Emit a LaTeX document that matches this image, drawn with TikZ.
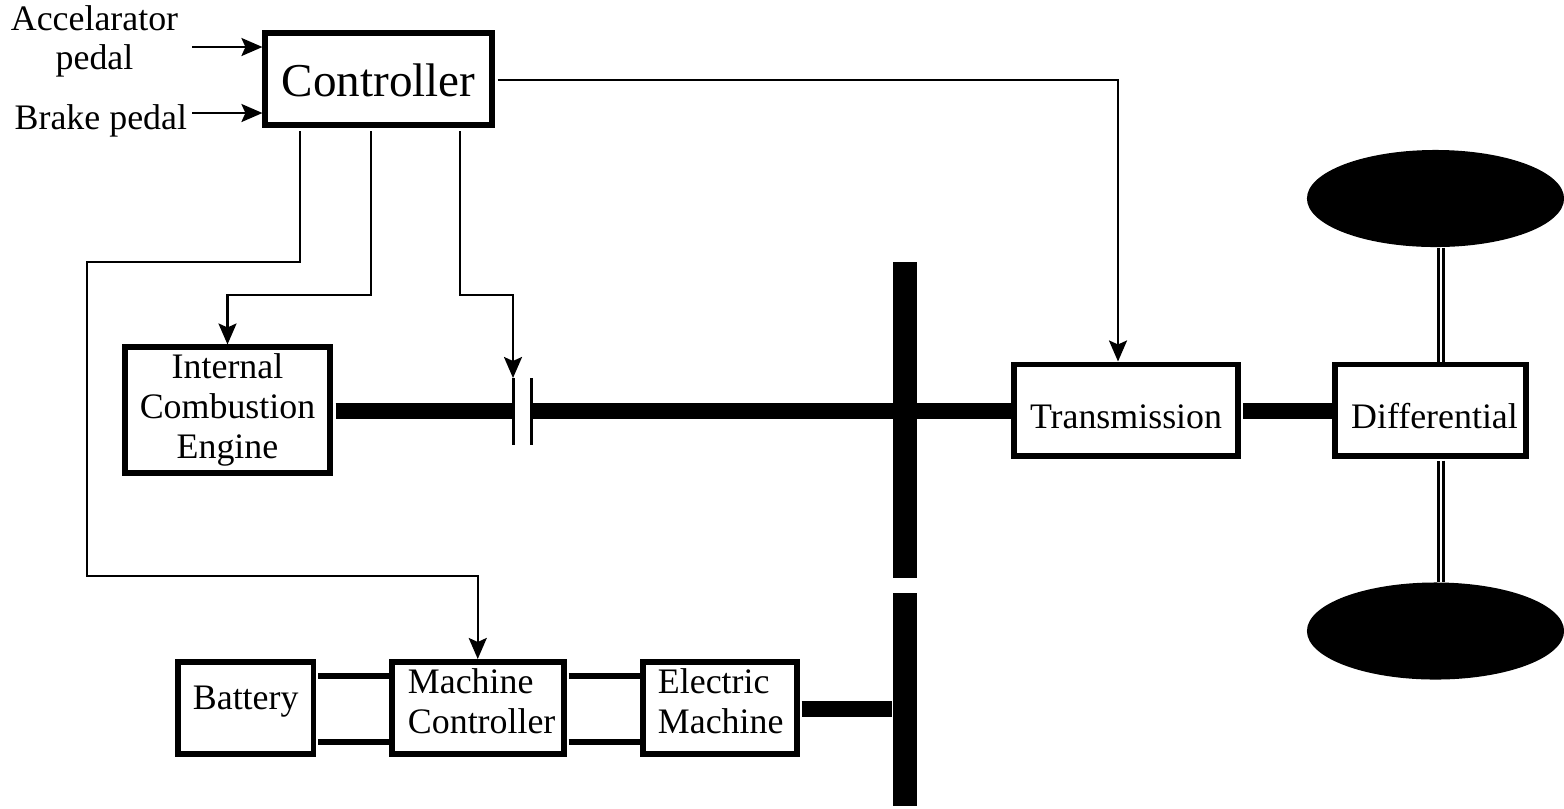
\documentclass[tikz,border=0pt]{standalone}
\usepackage{fontspec}
\setmainfont{Liberation Serif}
\usetikzlibrary{arrows.meta,calc,positioning,shapes.geometric}
\tikzset{box/.style={draw,line width=1.7pt,align=center,inner sep=0pt,font=\fontsize{10.2}{11.4}\selectfont},
  shaft/.style={line width=4.6pt},
  link/.style={line width=1.6pt},
  sig/.style={line width=0.7pt},
  arr/.style={sig,-{Stealth[length=2.1mm,width=1.8mm,inset=0.4mm]}},
  wheel/.style={fill=black,ellipse,minimum width=2.57cm,minimum height=0.97cm,inner sep=0pt},
  bar/.style={fill=black,minimum width=0.24cm,inner sep=0pt},
  axle/.style={line width=0.85pt,double,double distance=0.7pt},
  lbl/.style={align=center,inner sep=0pt,font=\fontsize{10.2}{10.9}\selectfont}}
\begin{document}
\begin{tikzpicture}[x=0.01cm,y=-0.01cm]
\useasboundingbox (0,0) rectangle (1564,808);
% boxes
\node[box,minimum width=2.26cm,minimum height=0.92cm,font=\fontsize{13.4}{15}\selectfont,text height=0.35cm,text depth=0pt] (ctrl) at (378.5,79) {Controller};
\node[box,minimum width=2.04cm,minimum height=1.25cm] (ice) at (227.5,410) {Internal\\Combustion\\Engine};
\node[box,minimum width=2.24cm,minimum height=0.91cm,text height=0.36cm,text depth=0pt] (trans) at (1126,410) {Transmission};
\node[box,minimum width=1.91cm,minimum height=0.91cm,text height=0.36cm,text depth=0pt] (diff) at (1430.5,410) {\hspace*{0.08cm}Differential};
\node[box,minimum width=1.355cm,minimum height=0.92cm,text height=0.02cm,text depth=0pt] (batt) at (245.7,708) {Battery};
\node[box,minimum width=1.715cm,minimum height=0.92cm,align=left,text width=1.395cm,text depth=0.545cm] (mc) at (477.75,708) {Machine\\\mbox{Controller}};
\node[box,minimum width=1.535cm,minimum height=0.92cm,align=left,text width=1.235cm,text depth=0.545cm] (em) at (719.75,708) {Electric\\\mbox{Machine}};
% wheels
\node[wheel] (wt) at (1435.5,198.5) {};
\node[wheel] (wb) at (1435.5,631) {};
% labels
\node[lbl,anchor=base] (acc) at (94.5,69) {Accelarator\\pedal};
\node[lbl,anchor=base west] (brk) at (14,129) {Brake pedal};
% bars
\node[bar,minimum height=3.16cm] (bar1) at (904.7,420) {};
\node[bar,minimum height=2.13cm] (bar2) at (904.7,699.5) {};
\coordinate (a1) at (192,47);
\coordinate (b1) at (192,113);
\draw[arr] (a1) -- (a1 -| ctrl.west);
\draw[arr] (b1) -- (b1 -| ctrl.west);
% signals
\coordinate (s1) at (300,262);
\coordinate (s2) at (371,295);
\coordinate (s3) at (460,295);
\coordinate (cl) at (513,378);
\coordinate (cr) at (531,378);
\coordinate (t1) at (1118,80);
\draw[arr] ($(ctrl.east |- t1)+(3,0)$) -| (trans.north -| t1);
\draw[arr] ($(s1 |- ctrl.south)+(0,3)$) -- (s1) -- (87,262) -- (87,576) -| (mc.north);
\draw[arr] ($(s2 |- ctrl.south)+(0,3)$) -- (s2) -| (ice.north);
\draw[arr] ($(s3 |- ctrl.south)+(0,3)$) -- (s3) -| (cl);
% clutch
\draw[sig,line width=0.85pt] (cl) -- ++(0,67);
\draw[sig,line width=0.85pt] (cr) -- ++(0,67);
% shafts
\draw[shaft] (ice.east |- 0,411) ++(3,0) -- (cl |- 0,411);
\draw[shaft] (cr |- 0,411) -- (trans.west |- 0,411);
\draw[shaft] (trans.east |- 0,411) ++(2,0) -- (diff.west |- 0,411);
\draw[shaft] (em.east |- 0,709) ++(2,0) coordinate (e0) -- (e0 -| bar2.west);
% axle
\coordinate (ax) at (1441,300);
\draw[axle] (wt.south -| ax) -- (diff.north -| ax);
\draw[axle] ($(diff.south -| ax)+(0,2)$) -- (wb.north -| ax);
% electrical
\draw[link] ($(batt.east |- 0,676)+(2,0)$) -- (mc.west |- 0,676);
\draw[link] ($(batt.east |- 0,742)+(2,0)$) -- (mc.west |- 0,742);
\draw[link] ($(mc.east |- 0,676)+(2,0)$) -- (em.west |- 0,676);
\draw[link] ($(mc.east |- 0,742)+(2,0)$) -- (em.west |- 0,742);
\end{tikzpicture}
\end{document}
